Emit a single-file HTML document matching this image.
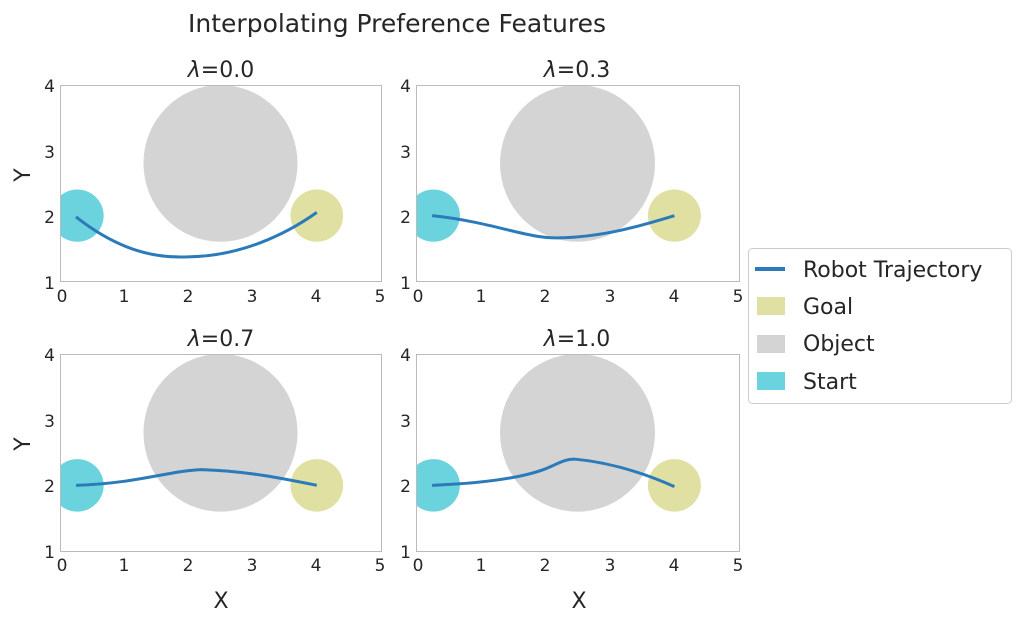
<!DOCTYPE html>
<html><head><meta charset="utf-8"><style>
body{margin:0;background:#fff}
svg text{font-family:"DejaVu Sans","Liberation Sans",sans-serif;fill:#262626}
</style></head><body>
<svg width="1028" height="628" xmlns="http://www.w3.org/2000/svg">
<defs>
<g id="bg">
<g transform="scale(1,-1)">
<ellipse cx="2.5" cy="2.8" rx="1.2" ry="1.2" fill="#d4d4d4"/>
<ellipse cx="0.27" cy="2" rx="0.41" ry="0.4" fill="#6bd3de"/>
<ellipse cx="4.0" cy="2" rx="0.41" ry="0.4" fill="#e0e0a2"/>
</g>
</g>
</defs>
<text x="397" y="32" font-size="25" text-anchor="middle">Interpolating Preference Features</text>

<!-- subplot 1 -->
<text x="221" y="77" font-size="22" text-anchor="middle"><tspan font-style="italic">λ</tspan>=0.0</text>
<svg x="60" y="85" width="321" height="196" viewBox="0 -4 5 3" preserveAspectRatio="none">
<use href="#bg"/>
<g transform="scale(1,-1)"><path d="M0.25,1.98 C1.0,1.4 1.6,1.35 2,1.37 C2.8,1.38 3.5,1.7 4,2.05" fill="none" stroke="#2b7bba" stroke-width="3" vector-effect="non-scaling-stroke"/></g>
</svg>
<rect x="60.5" y="85.5" width="321" height="196" fill="none" stroke="#bbb"/>

<!-- subplot 2 -->
<text x="577" y="77" font-size="22" text-anchor="middle"><tspan font-style="italic">λ</tspan>=0.3</text>
<svg x="416" y="85" width="323" height="196" viewBox="0 -4 5 3" preserveAspectRatio="none">
<use href="#bg"/>
<g transform="scale(1,-1)"><path d="M0.25,2 C1.2,1.9 1.7,1.65 2.2,1.66 C2.9,1.67 3.5,1.85 4,2" fill="none" stroke="#2b7bba" stroke-width="3" vector-effect="non-scaling-stroke"/></g>
</svg>
<rect x="416.5" y="85.5" width="323" height="196" fill="none" stroke="#bbb"/>

<!-- subplot 3 -->
<text x="221" y="346" font-size="22" text-anchor="middle"><tspan font-style="italic">λ</tspan>=0.7</text>
<svg x="60" y="354" width="321" height="197" viewBox="0 -4 5 3" preserveAspectRatio="none">
<use href="#bg"/>
<g transform="scale(1,-1)"><path d="M0.25,2 C1.2,2.03 1.7,2.22 2.2,2.24 C2.9,2.22 3.5,2.1 4,2" fill="none" stroke="#2b7bba" stroke-width="3" vector-effect="non-scaling-stroke"/></g>
</svg>
<rect x="60.5" y="354.5" width="321" height="197" fill="none" stroke="#bbb"/>

<!-- subplot 4 -->
<text x="577" y="346" font-size="22" text-anchor="middle"><tspan font-style="italic">λ</tspan>=1.0</text>
<svg x="416" y="354" width="323" height="197" viewBox="0 -4 5 3" preserveAspectRatio="none">
<use href="#bg"/>
<g transform="scale(1,-1)"><path d="M0.25,2 C1.0,2.03 1.6,2.1 2.0,2.25 C2.2,2.33 2.3,2.4 2.45,2.4 C3.0,2.35 3.5,2.2 4,1.98" fill="none" stroke="#2b7bba" stroke-width="3" vector-effect="non-scaling-stroke"/></g>
</svg>
<rect x="416.5" y="354.5" width="323" height="197" fill="none" stroke="#bbb"/>

<!-- tick labels -->
<g font-size="17" text-anchor="middle">
<text x="62" y="302">0</text><text x="124" y="302">1</text><text x="188" y="302">2</text><text x="252" y="302">3</text><text x="316" y="302">4</text><text x="380" y="302">5</text>
<text x="418" y="302">0</text><text x="481" y="302">1</text><text x="545" y="302">2</text><text x="610" y="302">3</text><text x="674" y="302">4</text><text x="738" y="302">5</text>
<text x="62" y="571">0</text><text x="124" y="571">1</text><text x="188" y="571">2</text><text x="252" y="571">3</text><text x="316" y="571">4</text><text x="380" y="571">5</text>
<text x="418" y="571">0</text><text x="481" y="571">1</text><text x="545" y="571">2</text><text x="610" y="571">3</text><text x="674" y="571">4</text><text x="738" y="571">5</text>
</g>
<g font-size="17" text-anchor="end">
<text x="55" y="92">4</text><text x="55" y="158">3</text><text x="55" y="223">2</text><text x="55" y="289">1</text>
<text x="411" y="92">4</text><text x="411" y="158">3</text><text x="411" y="223">2</text><text x="411" y="289">1</text>
<text x="55" y="361">4</text><text x="55" y="427">3</text><text x="55" y="492">2</text><text x="55" y="558">1</text>
<text x="411" y="361">4</text><text x="411" y="427">3</text><text x="411" y="492">2</text><text x="411" y="558">1</text>
</g>
<text x="38" y="183" font-size="22" text-anchor="middle" transform="rotate(-90 30 183)">Y</text>
<text x="38" y="452" font-size="22" text-anchor="middle" transform="rotate(-90 30 452)">Y</text>
<text x="221" y="608" font-size="22" text-anchor="middle">X</text>
<text x="579" y="608" font-size="22" text-anchor="middle">X</text>

<!-- legend -->
<rect x="748.5" y="248.5" width="263" height="155" rx="4" fill="#fff" stroke="#ccc"/>
<line x1="755" y1="269" x2="785" y2="269" stroke="#2b7bba" stroke-width="4"/>
<rect x="757" y="297" width="28" height="18" fill="#e0e0a2"/>
<rect x="757" y="335" width="28" height="18" fill="#d4d4d4"/>
<rect x="757" y="372" width="28" height="18" fill="#6bd3de"/>
<g font-size="22">
<text x="803" y="277">Robot Trajectory</text>
<text x="803" y="314">Goal</text>
<text x="803" y="351">Object</text>
<text x="803" y="389">Start</text>
</g>
</svg>
</body></html>
